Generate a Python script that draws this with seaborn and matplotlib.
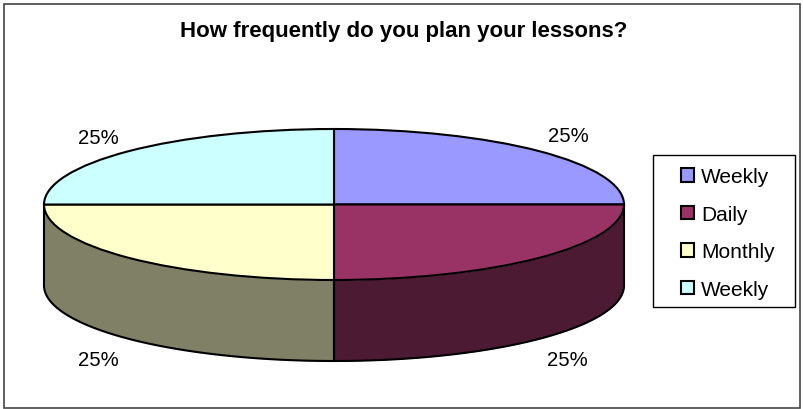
import numpy as np
import matplotlib
matplotlib.use('Agg')
import matplotlib.pyplot as plt
from matplotlib.patches import Rectangle
import seaborn as sns

categories = ['Weekly', 'Daily', 'Monthly', 'Weekly']
values = [25, 25, 25, 25]
top_colors = ['#9999FF', '#993366', '#FFFFCC', '#CCFFFF']
title = 'How frequently do you plan your lessons?'

sns.set_theme(style='white')
plt.rcParams['font.family'] = ['Liberation Sans', 'DejaVu Sans']

W, H = 804, 410
CX, CY, RX, RY, DEPTH = 334, 205.5, 290, 75.5, 81
LW = 1.5

fig = plt.figure(figsize=(W / 100, H / 100), dpi=100)
ax = fig.add_axes([0, 0, 1, 1])
palette = sns.color_palette(top_colors)
wedges, _ = ax.pie(values, colors=palette, startangle=90, counterclock=False,
                   wedgeprops={'edgecolor': 'black', 'linewidth': LW, 'zorder': 3})
ax.set_aspect('auto')
ax.set_xlim(-CX / RX, (W - CX) / RX)
ax.set_ylim((CY - H) / RY, CY / RY)
ax.axis('off')

# side wall of the pie, darker version of each slice
depth = DEPTH / RY
shares = np.array(values) / sum(values)
edges = 90 - 360 * np.concatenate([[0], np.cumsum(shares)])
for start, end, col in zip(edges[:-1], edges[1:], palette):
    lo, hi = max(end, -180), min(start, 0)
    if lo >= hi:
        lo, hi = max(end + 360, -180), min(start + 360, 0)
    if lo >= hi:
        continue
    t = np.radians(np.linspace(lo, hi, 60))
    dark = tuple(c * 0.5 for c in col)
    ax.fill_between(np.cos(t), np.sin(t), np.sin(t) - depth, color=dark, lw=0, zorder=1)
    ax.plot(np.cos(t), np.sin(t) - depth, color='black', lw=LW, zorder=2)
    for a in (lo, hi):
        x, y = np.cos(np.radians(a)), np.sin(np.radians(a))
        ax.plot([x, x], [y, y - depth], color='black', lw=LW, zorder=2)

# percent labels
label_pos = [(568, 137), (567, 360), (98, 360), (98, 138)]
for share, (px, py) in zip(shares, label_pos):
    ax.text((px - CX) / RX, (CY - py) / RY, f'{share:.0%}', ha='center', va='center',
            fontsize=14.6, color='black')

fig.text(404 / W, 1 - 31 / H, title, ha='center', va='center', fontsize=16,
         fontweight='bold', color='black')

# chart frame and legend box
fig.add_artist(Rectangle((4.5 / W, 1 - 408.5 / H), 795.5 / W, 404 / H, transform=fig.transFigure,
                         fill=False, edgecolor='#444444', linewidth=1.2))
fig.add_artist(Rectangle((653.5 / W, 1 - 307.5 / H), 142 / W, 152 / H, transform=fig.transFigure,
                         fill=False, edgecolor='black', linewidth=1))

leg = ax.legend(wedges, categories, loc='center left', bbox_to_anchor=(681 / W, 1 - 234 / H),
                bbox_transform=fig.transFigure, frameon=False, borderaxespad=0, borderpad=0,
                prop={'size': 15}, labelcolor='black', handlelength=0.62, handleheight=0.62,
                handletextpad=0.34, labelspacing=0.89)

fig.savefig('out.png', dpi=100)
